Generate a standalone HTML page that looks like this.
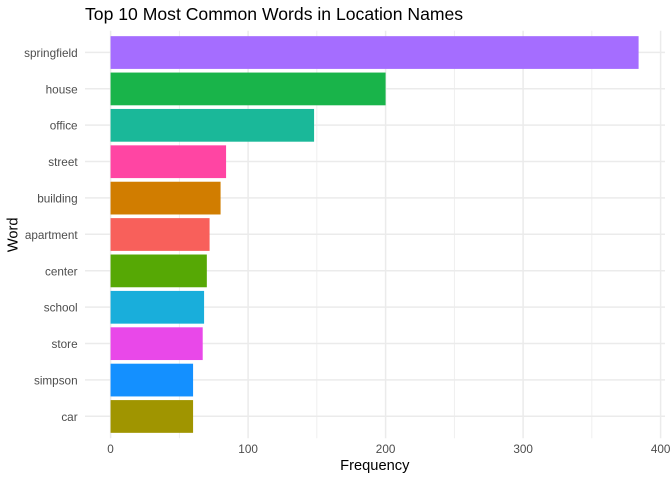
<!DOCTYPE html>
<html>
<head>
<meta charset="utf-8">
<style>
html,body{margin:0;padding:0;background:#fff;width:672px;height:480px;overflow:hidden}
svg{display:block}
text{font-family:"Liberation Sans",Arial,sans-serif}
</style>
</head>
<body>
<svg id="chart" width="672" height="480" viewBox="0 0 672 480" xmlns="http://www.w3.org/2000/svg">
  <rect x="0" y="0" width="672" height="480" fill="#ffffff"/>
  <g id="grid"></g>
  <g id="bars"></g>
  <g id="ylabels"></g>
  <g id="xlabels"></g>
  <text x="85" y="19.8" font-size="17.6" fill="#000000">Top 10 Most Common Words in Location Names</text>
  <text x="374.8" y="470" font-size="14.67" fill="#000000" text-anchor="middle">Frequency</text>
  <text transform="translate(17.5,234.8) rotate(-90)" font-size="14.67" fill="#000000" text-anchor="middle">Word</text>
</svg>
<script>
const words = ["springfield","house","office","street","building","apartment","center","school","store","simpson","car"];
const counts = [384,200,148,84,80,72,70,68,67,60,60];
const barColors = ["#A56DFF","#19B44A","#1AB899","#FF45A3","#D17D00","#F8605B","#56A805","#19AEDB","#E948E9","#1490FF","#A09500"];
const majorTicks = [0,100,200,300,400];
const minorTicks = [50,150,250,350];

const NS = "http://www.w3.org/2000/svg";
const panel = {left:85, right:665, top:30.7, bottom:438.3};
const xDomainMin = -18.6, xDomainMax = 403.2;
const bandCount = words.length;

function xScale(v){
  return panel.left + (v - xDomainMin) / (xDomainMax - xDomainMin) * (panel.right - panel.left);
}
function yScale(i){
  const step = (panel.bottom - panel.top) / (bandCount - 1 + 1.2);
  return panel.top + step * (0.6 + i);
}
function bandHeight(){
  return (panel.bottom - panel.top) / (bandCount + 0.2) * 0.9;
}
function make(tag, attrs, parent){
  const el = document.createElementNS(NS, tag);
  for (const k in attrs) el.setAttribute(k, attrs[k]);
  parent.appendChild(el);
  return el;
}

const grid = document.getElementById("grid");
const barsG = document.getElementById("bars");
const yl = document.getElementById("ylabels");
const xl = document.getElementById("xlabels");

minorTicks.forEach(function(t){
  const el = make("line", {x1:xScale(t), x2:xScale(t), y1:panel.top, y2:panel.bottom, stroke:"#ebebeb", "stroke-width":0.8}, grid);
  
  
});
majorTicks.forEach(function(t){
  const el = make("line", {x1:xScale(t), x2:xScale(t), y1:panel.top, y2:panel.bottom, stroke:"#ebebeb", "stroke-width":1.5}, grid);
  
  
  const lab = make("text", {x:xScale(t), y:453.2, "font-size":11.73, fill:"#4d4d4d", "text-anchor":"middle"}, xl);
  lab.textContent = String(t);
  
  
});
words.forEach(function(w, i){
  const y = yScale(i);
  const gl = make("line", {x1:panel.left, x2:panel.right, y1:y - 0.2, y2:y - 0.2, stroke:"#ebebeb", "stroke-width":1.5}, grid);
  
  

  const h = bandHeight();
  const bar = make("rect", {x:xScale(0), y:y - h/2, width:xScale(counts[i]) - xScale(0), height:h, fill:barColors[i]}, barsG);
  
  

  const lab = make("text", {x:77.6, y:y + 4.4, "font-size":11.73, fill:"#4d4d4d", "text-anchor":"end"}, yl);
  lab.textContent = w;
  
  
});
</script>
</body>
</html>
